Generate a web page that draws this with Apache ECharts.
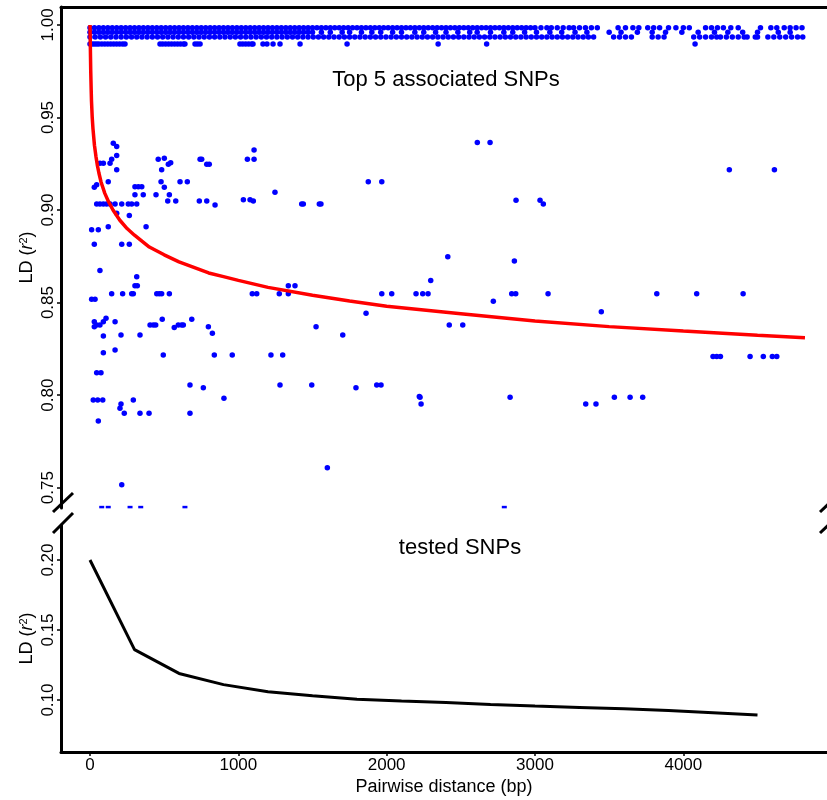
<!DOCTYPE html>
<html>
<head>
<meta charset="utf-8">
<script src="https://cdn.jsdelivr.net/npm/echarts@6/dist/echarts.min.js"></script>
<style>
html,body{margin:0;padding:0;background:#fff;}
#chart{width:827px;height:800px;}
</style>
</head>
<body>
<div id="chart"></div>
<script>
// ---------- data ----------
var xTicks = [0, 1000, 2000, 3000, 4000];
var topYTicks = [0.75, 0.80, 0.85, 0.90, 0.95, 1.00];
var bottomYTicks = [0.10, 0.15, 0.20];

// r2 levels of the dense band of near-complete LD
var bandLevels = [0.9985, 0.9960, 0.9935, 0.9897];

var bandTopX = [0,30,60,90,120,150,180,210,240,270,300,330,360,390,420,450,480,510,540,570,600,630,660,690,720,750,780,810,840,870,900,930,960,990,1020,1050,1080,1110,1140,1170,1200,1230,1260,1290,1320,1350,1380,1410,1440,1470,1500,1530,1560,1590,1620,1650,1680,1710,1740,1770,1800,1830,1860,1890,1920,1950,1980,2010,2040,2070,2100,2130,2160,2190,2220,2250,2280,2310,2340,2370,2400,2430,2460,2490,2520,2550,2580,2610,2640,2670,2700,2730,2760,2790,2820,2850,2880,2910,2940,2970,3000,3040,3080,3110,3150,3190,3230,3260,3300,3340,3380,3420,3560,3610,3660,3700,3760,3800,3840,3900,3950,4000,4040,4150,4190,4230,4270,4320,4370,4520,4590,4630,4680,4720,4760,4800];

var bandMidX = [0,30,60,90,120,150,180,210,240,270,300,330,360,390,420,450,480,510,540,570,600,630,660,690,720,750,780,810,840,870,900,930,960,990,1020,1050,1080,1110,1140,1170,1200,1230,1260,1290,1320,1350,1380,1410,1440,1470,1500,1560,1620,1700,1750,1830,1900,1960,2040,2100,2190,2250,2330,2400,2480,2560,2610,2700,2790,2850,2930,3010,3100,3180,3270,3350,3500,3580,3690,3790,3880,3990,4100,4210,4300,4400,4500,4640,4720];

var bandLowX = [0,35,70,105,140,175,210,245,280,315,350,385,420,455,490,525,560,595,630,665,700,735,770,805,840,875,910,945,980,1015,1050,1085,1120,1155,1190,1225,1260,1295,1330,1365,1400,1435,1470,1505,1540,1575,1610,1645,1680,1715,1750,1785,1820,1855,1890,1925,1960,1995,2030,2065,2100,2135,2170,2205,2240,2275,2310,2345,2380,2415,2450,2485,2520,2555,2590,2625,2660,2695,2730,2765,2800,2835,2870,2905,2940,2975,3010,3045,3080,3115,3150,3185,3220,3255,3290,3325,3360,3395,3530,3570,3610,3650,3790,3830,3870,4070,4110,4150,4190,4225,4250,4290,4330,4370,4410,4430,4485,4500,4570,4610,4650,4690,4730,4770,4805];

var bandBotX = [0,15,30,45,60,80,100,120,140,160,180,200,220,236,472,490,510,530,550,570,590,610,630,640,708,725,742,1011,1030,1050,1070,1090,1099,1166,1193,1234,1281,1416,1733,2347,2674,4079];

// scattered SNP pairs: [distance bp, r2]
var snpPairs = [
[157,0.9361],[180,0.9343],[180,0.9294],[180,0.9217],[67,0.9253],[90,0.9253],[135,0.9253],[146,0.9274],[123,0.9153],[29,0.9123],[45,0.9136],
[45,0.9033],[67,0.9033],[90,0.9033],[112,0.9033],[135,0.9033],[169,0.9033],[214,0.9033],[258,0.9033],[281,0.9033],[315,0.9033],
[303,0.9082],[359,0.9082],[303,0.9126],[326,0.9126],[349,0.9126],
[265,0.8970],[180,0.8983],[123,0.8910],[378,0.8910],[11,0.8893],[56,0.8893],[29,0.8815],[214,0.8815],[265,0.8815],[67,0.8673],[315,0.8640],[303,0.8591],[319,0.8591],
[11,0.8518],[34,0.8518],[146,0.8547],[220,0.8547],[281,0.8547],[292,0.8547],[450,0.8547],[467,0.8547],[483,0.8547],[535,0.8547],
[460,0.9274],[501,0.9280],[483,0.9217],[528,0.9247],[544,0.9256],[479,0.9153],[501,0.9123],[445,0.9082],[535,0.9082],[524,0.9049],[578,0.9049],
[607,0.9153],[656,0.9153],[737,0.9049],[787,0.9049],[843,0.9027],[742,0.9274],[753,0.9274],[787,0.9247],[804,0.9247],
[1034,0.9055],[1079,0.9055],[1101,0.9049],[1061,0.9274],[1106,0.9274],[1106,0.9325],[1247,0.9096],[1427,0.9033],[1438,0.9033],[1546,0.9033],[1557,0.9033],
[1094,0.8547],[1124,0.8547],[1276,0.8547],[1337,0.8547],[1337,0.8591],[1382,0.8591],[1876,0.9153],[1967,0.9153],[1861,0.8442],[1967,0.8547],[2034,0.8547],[2198,0.8547],
[2611,0.9365],[2697,0.9365],[4310,0.9217],[4614,0.9217],[2872,0.9053],[3034,0.9053],[3056,0.9033],[2412,0.8748],[2861,0.8725],[2297,0.8619],
[2243,0.8547],[2279,0.8547],[2843,0.8547],[2870,0.8547],[3088,0.8547],[3821,0.8547],[4090,0.8547],[4403,0.8547],[2719,0.8507],[3447,0.8451],
[29,0.8397],[29,0.8370],[45,0.8379],[67,0.8379],[90,0.8397],[108,0.8415],[169,0.8397],[90,0.8320],[209,0.8325],[337,0.8325],[90,0.8229],[169,0.8244],
[405,0.8379],[427,0.8379],[443,0.8379],[487,0.8410],[568,0.8365],[595,0.8379],[618,0.8379],[629,0.8379],[686,0.8410],[798,0.8370],[825,0.8334],
[494,0.8217],[838,0.8217],[959,0.8217],[1220,0.8217],[1299,0.8217],[1524,0.8370],[1704,0.8325],[1793,0.8040],
[45,0.8121],[74,0.8121],[22,0.7974],[52,0.7974],[86,0.7974],[202,0.7929],[209,0.7952],[231,0.7902],[292,0.7974],[337,0.7902],[398,0.7902],[674,0.7902],
[674,0.8055],[764,0.8040],[903,0.7983],[1281,0.8055],[1495,0.8055],[1933,0.8055],[1962,0.8055],[56,0.7860],[214,0.7515],[1600,0.7608],[2220,0.7992],
[2422,0.8379],[2513,0.8379],[4200,0.8208],[4225,0.8208],[4250,0.8208],[4450,0.8208],[4539,0.8208],[4600,0.8208],[4630,0.8208],
[2225,0.7988],[2232,0.7952],[2832,0.7988],[3342,0.7952],[3411,0.7952],[3535,0.7988],[3641,0.7988],[3726,0.7988]
];
// pairs at the lower edge of the upper panel (partly cut off)
var snpPairsEdge = [[79,0.7395],[123,0.7395],[270,0.7395],[342,0.7395],[640,0.7395],[2793,0.7395]];

// fitted decay curve for top 5 associated SNPs
var fitCurve = [[0,1.0],[2,1.0],[5,0.975],[8,0.965],[10,0.959],[15,0.950],[20,0.944],[30,0.935],[40,0.929],[50,0.924],[60,0.920],[75,0.915],[100,0.909],[125,0.9045],[155,0.900],[200,0.8946],[250,0.890],[300,0.8864],[400,0.880],[500,0.8758],[600,0.872],[700,0.869],[800,0.866],[900,0.864],[1000,0.862],[1200,0.8582],[1500,0.854],[1750,0.8508],[2000,0.848],[2500,0.844],[3000,0.840],[3500,0.837],[4000,0.8346],[4500,0.8323],[4820,0.831]];

// average LD decay for all tested SNPs
var testedDecay = [[0,0.200],[300,0.136],[600,0.119],[900,0.111],[1200,0.106],[1500,0.103],[1800,0.1005],[2100,0.0993],[2400,0.0982],[2700,0.0968],[3000,0.0957],[3300,0.0947],[3600,0.0937],[3900,0.0925],[4200,0.0910],[4500,0.0893]];

// ---------- chart ----------
var FONT = 'Liberation Sans';
var XMIN = -195.5, XMAX = 4968.5;
function row(xs, level){ return xs.map(function(x){ return [x, level]; }); }

var axisLineStyle = {color:'#000', width:3};
var yName = 'LD ({i|r}{s|2})';
var yNameStyle = {
  fontFamily: FONT, fontSize: 18, color:'#000',
  rich: {
    i: {fontFamily: FONT, fontSize: 18, fontStyle:'italic', color:'#000'},
    s: {fontFamily: FONT, fontSize: 11, verticalAlign:'top', color:'#000'}
  }
};
var blue = {color:'#0000ff', opacity:1};

var chart = echarts.init(document.getElementById('chart'), null, {renderer:'canvas'});
var option = {
  animation: false,
  backgroundColor: '#fff',
  textStyle: {fontFamily: FONT},
  grid: [
    {left: 61, top: 7, width: 766, height: 501},
    {left: 61, top: 525, width: 766, height: 227}
  ],
  xAxis: [
    {gridIndex:0, type:'value', min:XMIN, max:XMAX, position:'top',
     axisLine:{show:true, onZero:false, lineStyle:axisLineStyle},
     axisTick:{show:false}, axisLabel:{show:false}, splitLine:{show:false}},
    {gridIndex:1, type:'value', min:XMIN, max:XMAX, position:'bottom',
     axisLine:{show:true, onZero:false, lineStyle:axisLineStyle},
     axisTick:{show:true, length:4, lineStyle:{color:'#000', width:1.5}, customValues:xTicks},
     axisLabel:{customValues:xTicks, fontFamily:FONT, fontSize:17, color:'#000', margin:5,
       formatter:function(v){ return String(Math.round(v)); }},
     splitLine:{show:false},
     name:'Pairwise distance (bp)', nameLocation:'middle', nameGap:26, nameMoveOverlap:false,
     nameTextStyle:{fontFamily:FONT, fontSize:18, color:'#000'}}
  ],
  yAxis: [
    {gridIndex:0, type:'value', min:0.739, max:1.0097,
     axisLine:{show:true, onZero:false, lineStyle:axisLineStyle},
     axisTick:{show:true, length:4, lineStyle:{color:'#000', width:1.5}, customValues:topYTicks},
     axisLabel:{customValues:topYTicks, rotate:90, fontFamily:FONT, fontSize:17, color:'#000', margin:4,
       formatter:function(v){ return v.toFixed(2); }},
     splitLine:{show:false},
     name:yName, nameLocation:'middle', nameRotate:90, nameGap:25, nameMoveOverlap:false, nameTextStyle:yNameStyle},
    {gridIndex:1, type:'value', min:0.0629, max:0.225,
     axisLine:{show:true, onZero:false, lineStyle:axisLineStyle},
     axisTick:{show:true, length:4, lineStyle:{color:'#000', width:1.5}, customValues:bottomYTicks},
     axisLabel:{customValues:bottomYTicks, rotate:90, fontFamily:FONT, fontSize:17, color:'#000', margin:4,
       formatter:function(v){ return v.toFixed(2); }},
     splitLine:{show:false},
     name:yName, nameLocation:'middle', nameRotate:90, nameGap:25, nameMoveOverlap:false, nameTextStyle:yNameStyle}
  ],
  series: [
    {type:'scatter', xAxisIndex:0, yAxisIndex:0, data:row(bandTopX, bandLevels[0]), symbol:'circle', symbolSize:5.5, itemStyle:blue, clip:true, z:2},
    {type:'scatter', xAxisIndex:0, yAxisIndex:0, data:row(bandMidX, bandLevels[1]), symbol:'circle', symbolSize:5.5, itemStyle:blue, clip:true, z:2},
    {type:'scatter', xAxisIndex:0, yAxisIndex:0, data:row(bandLowX, bandLevels[2]), symbol:'circle', symbolSize:5.5, itemStyle:blue, clip:true, z:2},
    {type:'scatter', xAxisIndex:0, yAxisIndex:0, data:row(bandBotX, bandLevels[3]), symbol:'circle', symbolSize:5.5, itemStyle:blue, clip:true, z:2},
    {type:'scatter', xAxisIndex:0, yAxisIndex:0, data:snpPairs, symbol:'circle', symbolSize:5.5, itemStyle:blue, clip:true, z:2},
    {type:'scatter', xAxisIndex:0, yAxisIndex:0, data:snpPairsEdge, symbol:'rect', symbolSize:[5,2.5], itemStyle:blue, clip:true, z:2},
    {type:'line', xAxisIndex:0, yAxisIndex:0, data:fitCurve, showSymbol:false, symbol:'none', smooth:false,
     lineStyle:{color:'#ff0000', width:3.5}, z:5},
    {type:'line', xAxisIndex:1, yAxisIndex:1, data:testedDecay, showSymbol:false, symbol:'none', smooth:false,
     lineStyle:{color:'#000', width:3}, z:5}
  ],
  graphic: [
    {type:'text', style:{text:'Top 5 associated SNPs', x:446, y:80, align:'center', verticalAlign:'middle', font:'22px "Liberation Sans"', fill:'#000'}},
    {type:'text', style:{text:'tested SNPs', x:460, y:548, align:'center', verticalAlign:'middle', font:'22px "Liberation Sans"', fill:'#000'}},
    {type:'line', shape:{x1:53, y1:512, x2:73, y2:493}, style:{stroke:'#000', lineWidth:3}},
    {type:'line', shape:{x1:53, y1:533, x2:73, y2:513}, style:{stroke:'#000', lineWidth:3}},
    {type:'line', shape:{x1:820, y1:512, x2:840, y2:493}, style:{stroke:'#000', lineWidth:3}},
    {type:'line', shape:{x1:820, y1:533, x2:840, y2:514}, style:{stroke:'#000', lineWidth:3}}
  ]
};
chart.setOption(option);
</script>
</body>
</html>
